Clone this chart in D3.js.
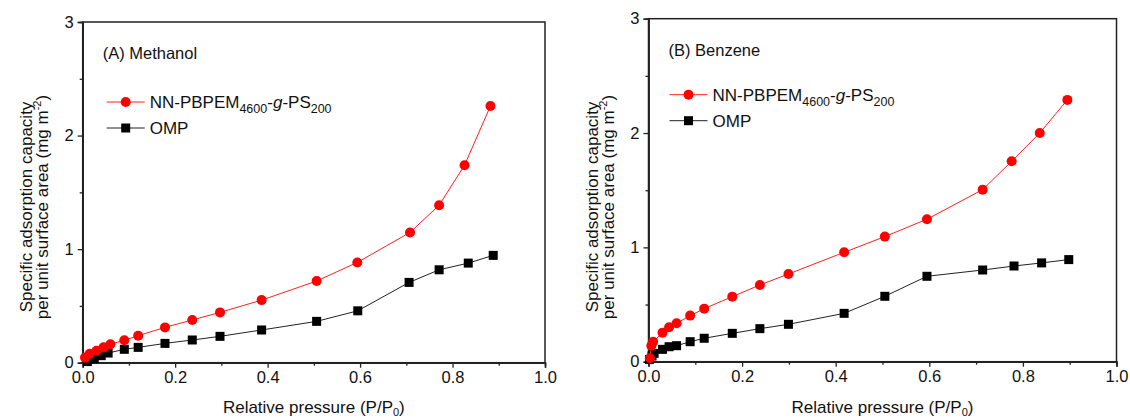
<!DOCTYPE html>
<html>
<head>
<meta charset="utf-8">
<script src="https://cdn.jsdelivr.net/npm/d3@7"></script>
<style>
  body { margin: 0; background: #fff; }
  svg { display: block; font-family: "Liberation Sans", Arial, sans-serif; }
  .axis path, .axis line { stroke: #222; }
</style>
</head>
<body>
<svg id="chart" width="1130" height="418"></svg>
<script>
// panel (A) methanol
const methanolNNx = [0.005, 0.015, 0.03, 0.045, 0.06, 0.09, 0.12, 0.178, 0.237, 0.297, 0.387, 0.506, 0.594, 0.708, 0.771, 0.826, 0.882];
const methanolNNy = [0.045, 0.078, 0.105, 0.135, 0.163, 0.197, 0.238, 0.311, 0.376, 0.443, 0.551, 0.719, 0.883, 1.147, 1.387, 1.739, 2.26];
const methanolOMPx = [0.01, 0.025, 0.04, 0.055, 0.09, 0.12, 0.178, 0.237, 0.297, 0.387, 0.506, 0.595, 0.706, 0.771, 0.834, 0.888];
const methanolOMPy = [0.01, 0.035, 0.062, 0.085, 0.118, 0.135, 0.17, 0.2, 0.232, 0.288, 0.364, 0.457, 0.707, 0.818, 0.877, 0.945];

// panel (B) benzene
const benzeneNNx = [0.003, 0.006, 0.01, 0.03, 0.044, 0.06, 0.089, 0.119, 0.179, 0.238, 0.299, 0.418, 0.505, 0.595, 0.714, 0.776, 0.836, 0.895];
const benzeneNNy = [0.03, 0.14, 0.175, 0.254, 0.301, 0.336, 0.403, 0.464, 0.569, 0.671, 0.767, 0.957, 1.094, 1.246, 1.505, 1.753, 2.0, 2.29];
const benzeneOMPx = [0.002, 0.0075, 0.012, 0.03, 0.044, 0.06, 0.089, 0.119, 0.179, 0.238, 0.299, 0.418, 0.505, 0.595, 0.714, 0.781, 0.84, 0.898];
const benzeneOMPy = [0.02, 0.05, 0.073, 0.108, 0.131, 0.14, 0.175, 0.205, 0.248, 0.289, 0.327, 0.423, 0.572, 0.747, 0.802, 0.837, 0.864, 0.893];

const xTicks = [0, 0.2, 0.4, 0.6, 0.8, 1.0];
const xMinorTicks = [0.1, 0.3, 0.5, 0.7, 0.9];
const yTicks = [0, 1, 2, 3];
const yMinorTicks = [0.5, 1.5, 2.5];

const svg = d3.select("#chart");

// zip two arrays into points
function pts(xs, ys) {
  return xs.map((v, i) => [v, ys[i]]);
}

function drawPanel(p) {
  const g = svg.append("g");
  const x = d3.scaleLinear().domain([0, 1]).range([p.left, p.right]);
  const y = d3.scaleLinear().domain([0, 3]).range([p.bottom, p.top]);

  // frame
  g.append("rect")
    .attr("x", p.left).attr("y", p.top)
    .attr("width", p.right - p.left).attr("height", p.bottom - p.top)
    .attr("fill", "none").attr("stroke", "#222").attr("stroke-width", 1.5);

  // x axis major + minor
  g.append("g").attr("class", "axis")
    .attr("transform", `translate(0,${p.bottom})`)
    .call(d3.axisBottom(x).tickValues(xTicks).tickFormat(d3.format(".1f")).tickSize(5).tickPadding(4));
  g.append("g").attr("class", "axis")
    .attr("transform", `translate(0,${p.bottom})`)
    .call(d3.axisBottom(x).tickValues(xMinorTicks).tickFormat("").tickSize(3));

  g.append("g").attr("class", "axis")
    .attr("transform", `translate(${p.left},0)`)
    .call(d3.axisLeft(y).tickValues(yTicks).tickFormat(d3.format("d")).tickSize(5).tickPadding(4));
  g.append("g").attr("class", "axis")
    .attr("transform", `translate(${p.left},0)`)
    .call(d3.axisLeft(y).tickValues(yMinorTicks).tickFormat("").tickSize(3));

  g.selectAll(".axis path").attr("stroke-width", 1.5);
  g.selectAll(".axis line").attr("stroke-width", 1.3);
  g.selectAll(".axis text").attr("font-size", 16.5).attr("fill", "#111")
    .attr("font-family", "Liberation Sans, Arial, sans-serif");

  // axis titles
  const xt = g.append("text")
    .attr("x", (p.left + p.right) / 2).attr("y", 413)
    .attr("text-anchor", "middle").attr("font-size", 17).attr("fill", "#111");
  xt.append("tspan").text("Relative pressure (P/P");
  xt.append("tspan").attr("font-size", 11).attr("dy", 3).text("0");
  xt.append("tspan").attr("dy", -3).text(")");

  const cy = 207;
  g.append("text")
    .attr("transform", `translate(${p.left - 51},${cy}) rotate(-90)`)
    .attr("text-anchor", "middle").attr("font-size", 17).attr("fill", "#111")
    .text("Specific adsorption capacity");
  const yt2 = g.append("text")
    .attr("transform", `translate(${p.left - 35},${cy}) rotate(-90)`)
    .attr("text-anchor", "middle").attr("font-size", 17).attr("fill", "#111");
  yt2.append("tspan").text("per unit surface area (mg m");
  yt2.append("tspan").attr("font-size", 11).attr("dy", -7).text("-2");
  yt2.append("tspan").attr("dy", 7).text(")");

  // panel label
  g.append("text")
    .attr("x", p.left + 20).attr("y", p.top + 37)
    .attr("font-size", 16.5).attr("fill", "#111")
    .text(p.label);

  const line = d3.line().x(d => x(d[0])).y(d => y(d[1]));

  // OMP series (black squares)
  const omp = pts(p.ompX, p.ompY);
  g.append("path").datum(omp).attr("d", line)
    .attr("fill", "none").attr("stroke", "#222").attr("stroke-width", 1);
  g.selectAll(".sq").data(omp).enter().append("rect")
    .attr("x", d => x(d[0]) - 4.5).attr("y", d => y(d[1]) - 4.5)
    .attr("width", 9).attr("height", 9).attr("fill", "#000");

  // NN series (red circles)
  const nn = pts(p.nnX, p.nnY);
  g.append("path").datum(nn).attr("d", line)
    .attr("fill", "none").attr("stroke", "#ff2020").attr("stroke-width", 1);
  g.selectAll(".dot").data(nn).enter().append("circle")
    .attr("cx", d => x(d[0])).attr("cy", d => y(d[1])).attr("r", 5)
    .attr("fill", "#ff0000");

  // legend
  const lx = p.left + p.legDx, ly1 = p.top + p.legDy, ly2 = ly1 + 26;
  g.append("line").attr("x1", lx).attr("x2", lx + 38).attr("y1", ly1).attr("y2", ly1)
    .attr("stroke", "#ff2020").attr("stroke-width", 1);
  g.append("circle").attr("cx", lx + 19).attr("cy", ly1).attr("r", 5).attr("fill", "#ff0000");
  g.append("line").attr("x1", lx).attr("x2", lx + 38).attr("y1", ly2).attr("y2", ly2)
    .attr("stroke", "#222").attr("stroke-width", 1);
  g.append("rect").attr("x", lx + 14.5).attr("y", ly2 - 4.5).attr("width", 9).attr("height", 9).attr("fill", "#000");

  const t1 = g.append("text").attr("x", lx + 43).attr("y", ly1 + 6)
    .attr("font-size", 17).attr("fill", "#111");
  t1.append("tspan").text("NN-PBPEM");
  t1.append("tspan").attr("font-size", 12.5).attr("dy", 5).text("4600");
  t1.append("tspan").attr("dy", -5).text("-");
  t1.append("tspan").attr("font-style", "italic").text("g");
  t1.append("tspan").text("-PS");
  t1.append("tspan").attr("font-size", 12.5).attr("dy", 5).text("200");

  g.append("text").attr("x", lx + 43).attr("y", ly2 + 6)
    .attr("font-size", 17).attr("fill", "#111").text("OMP");
}

drawPanel({
  left: 82.7, right: 545, top: 22, bottom: 362.7,
  label: "(A) Methanol", legDx: 24, legDy: 80,
  nnX: methanolNNx, nnY: methanolNNy, ompX: methanolOMPx, ompY: methanolOMPy
});

drawPanel({
  left: 648.5, right: 1116.5, top: 18.7, bottom: 361.7,
  label: "(B) Benzene", legDx: 21, legDy: 76,
  nnX: benzeneNNx, nnY: benzeneNNy, ompX: benzeneOMPx, ompY: benzeneOMPy
});
</script>
</body>
</html>
